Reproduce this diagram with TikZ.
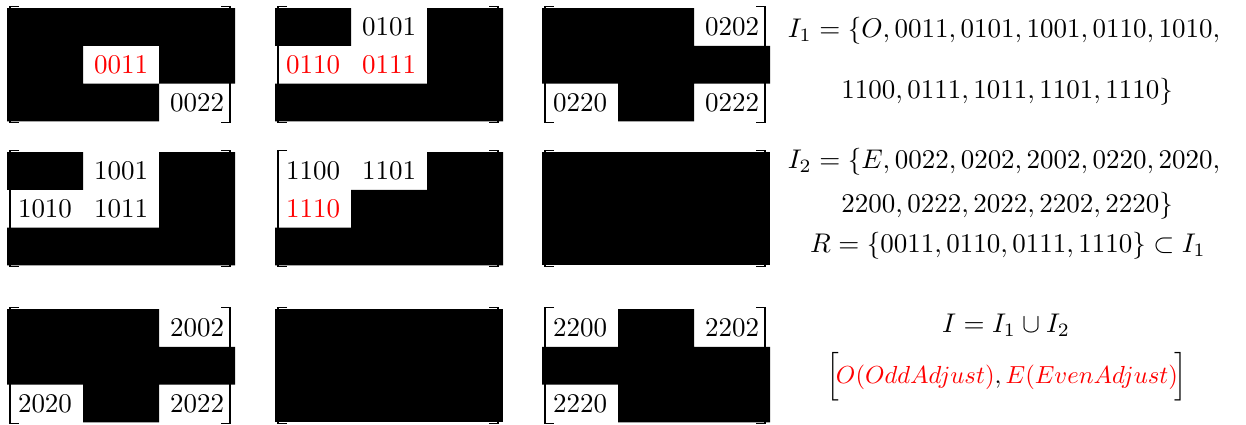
\documentclass[tikz,border=0pt]{standalone}
\newcommand\mybrk{%
  \draw[brk] (12,-1.2) -| (3,114.6) -- (12,114.6);
  \draw[brk] (214,-1.2) -| (223,114.6) -- (214,114.6);}
\begin{document}
\begin{tikzpicture}[x=0.3704pt,y=-0.3704pt,
  blk/.style={fill=black,draw=none},
  brk/.style={line width=0.4pt,draw=black},
  txt/.style={inner sep=0pt,anchor=center},
  rtxt/.style={txt,text=red},
  eq/.style={inner sep=0pt,anchor=base}]
\useasboundingbox (0,0) rectangle (1246,424);
% ---------- matrix 1
\begin{scope}[shift={(7,8)}]
  \mybrk
  \fill[blk] (0,0) rectangle (228,37.8) (0,37.8) rectangle (76,75.6) (152,37.8) rectangle (228,75.6) (0,75.6) rectangle (152,113.4);
  \node[rtxt] (m1b) at (114,56.7) {0011};
  \node[txt] (m1c) at (190,94.5) {0022};
\end{scope}
% ---------- matrix 2
\begin{scope}[shift={(275,8)}]
  \mybrk
  \fill[blk] (0,0) rectangle (76,37.8) (152,0) rectangle (228,75.6) (0,75.6) rectangle (228,113.4);
  \node[txt] (m2a) at (114,18.9) {0101};
  \node[rtxt] (m2b) at (38,56.7) {0110};
  \node[rtxt] (m2c) at (114,56.7) {0111};
\end{scope}
% ---------- matrix 3
\begin{scope}[shift={(542,8)}]
  \mybrk
  \fill[blk] (0,0) rectangle (152,37.8) (0,37.8) rectangle (228,75.6) (76,75.6) rectangle (152,113.4);
  \node[txt] (m3a) at (190,18.9) {0202};
  \node[txt] (m3b) at (38,94.5) {0220};
  \node[txt] (m3c) at (190,94.5) {0222};
\end{scope}
% ---------- matrix 4
\begin{scope}[shift={(7,152)}]
  \mybrk
  \fill[blk] (0,0) rectangle (76,37.8) (152,0) rectangle (228,75.6) (0,75.6) rectangle (228,113.4);
  \node[txt] (m4a) at (114,18.9) {1001};
  \node[txt] (m4b) at (38,56.7) {1010};
  \node[txt] (m4c) at (114,56.7) {1011};
\end{scope}
% ---------- matrix 5
\begin{scope}[shift={(275,152)}]
  \mybrk
  \fill[blk] (152,0) rectangle (228,37.8) (76,37.8) rectangle (228,75.6) (0,75.6) rectangle (228,113.4);
  \node[txt] (m5a) at (38,18.9) {1100};
  \node[txt] (m5b) at (114,18.9) {1101};
  \node[rtxt] (m5c) at (38,56.7) {1110};
\end{scope}
% ---------- matrix 6
\begin{scope}[shift={(542,152)}]
  \mybrk
  \fill[blk] (0,0) rectangle (228,113.4);
\end{scope}
% ---------- matrix 7
\begin{scope}[shift={(7,309)}]
  \mybrk
  \fill[blk] (0,0) rectangle (152,37.8) (0,37.8) rectangle (228,75.6) (76,75.6) rectangle (152,113.4);
  \node[txt] (m7a) at (190,18.9) {2002};
  \node[txt] (m7b) at (38,94.5) {2020};
  \node[txt] (m7c) at (190,94.5) {2022};
\end{scope}
% ---------- matrix 8
\begin{scope}[shift={(275,309)}]
  \mybrk
  \fill[blk] (0,0) rectangle (228,113.4);
\end{scope}
% ---------- matrix 9
\begin{scope}[shift={(542,309)}]
  \mybrk
  \fill[blk] (76,0) rectangle (152,37.8) (0,37.8) rectangle (228,75.6) (76,75.6) rectangle (228,113.4);
  \node[txt] (m9a) at (38,18.9) {2200};
  \node[txt] (m9b) at (190,18.9) {2202};
  \node[txt] (m9c) at (38,94.5) {2220};
\end{scope}
% ---------- equations
\node[eq] (e1) at (1004,37) {$I_1=\{O,0011,0101,1001,0110,1010,$};
\node[eq] (e2) at (1007,98) {$1100,0111,1011,1101,1110\}$};
\node[eq] (e3) at (1004,168) {$I_2=\{E,0022,0202,2002,0220,2020,$};
\node[eq] (e4) at (1007,212) {$2200,0222,2022,2202,2220\}$};
\node[eq] (e5) at (1008,252) {$R=\{0011,0110,0111,1110\}\subset I_1$};
\node[eq] (e6) at (1006,332) {$I=I_1\cup I_2$};
\node[eq] (e7l) at (833,383) {$\Big[$};
\node[eq,scale=0.914,transform shape] (e7) at (1007,383) {$\textcolor{red}{O(OddAdjust)},\textcolor{red}{E(EvenAdjust)}$};
\node[eq] (e7r) at (1181,383) {$\Big]$};
\end{tikzpicture}
\end{document}
